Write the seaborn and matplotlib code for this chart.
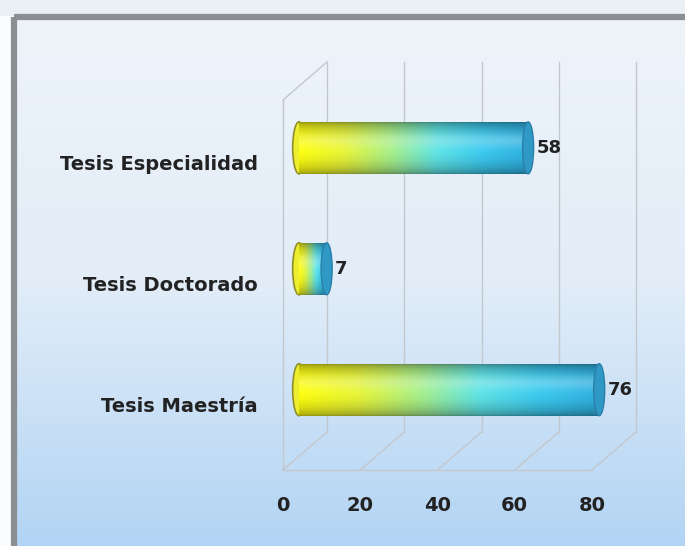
import numpy as np
import matplotlib
matplotlib.use('Agg')
import matplotlib.pyplot as plt
import seaborn as sns
from matplotlib.patches import Ellipse, Rectangle
from matplotlib.colors import LinearSegmentedColormap

categorias = ['Tesis Especialidad', 'Tesis Doctorado', 'Tesis Maestría']
valores = [58, 7, 76]
ticks_x = [0, 20, 40, 60, 80]

W, H = 685, 546
fig = plt.figure(figsize=(W / 100, H / 100), dpi=100)


def ejes(l, t, r, b):
    # ejes colocados en pixeles de la figura
    return fig.add_axes([l / W, 1 - b / H, (r - l) / W, (b - t) / H])


# fondo con degradado y marco gris (el marco sigue fuera de la imagen por la derecha)
fig.patch.set_facecolor('#fbfcfd')
fondo = ejes(0, 0, W, H)
fondo.set_xlim(0, W)
fondo.set_ylim(H, 0)
fondo.axis('off')
fondo.add_patch(Rectangle((0, 0), W, 16, fc='#e9eff5', ec='none'))
cmap_fondo = LinearSegmentedColormap.from_list('fondo', ['#eef4fa', '#e2edf8', '#b2d4f4'])
fondo.imshow(np.linspace(0, 1, 256)[:, None], cmap=cmap_fondo, extent=(15, W, H, 18), aspect='auto')
fondo.add_patch(Rectangle((14, 17), 700, 545, fill=False, ec='#8b8e92', lw=4.5, clip_on=False))
fondo.set_xlim(0, W)
fondo.set_ylim(H, 0)

# ejes frontales (suelo y etiquetas)
ax = ejes(283, 100, 592, 470)
ax.patch.set_alpha(0)
ax.set_xlim(0, 80)
y_suelo, y_techo = 2.54, -0.52
ax.set_ylim(y_suelo, y_techo)
for s in ax.spines.values():
    s.set_visible(False)

px_x = 309 / 80
px_y = 370 / (y_suelo - y_techo)
ddx = 44 / px_x
ddy = -38 / px_y
gris = '#c3c8cf'
for v in ticks_x:
    ax.plot([v + ddx] * 2, [y_suelo + ddy, y_techo + ddy], color=gris, lw=1, clip_on=False)
    ax.plot([v, v + ddx], [y_suelo, y_suelo + ddy], color=gris, lw=1, clip_on=False)
ax.plot([0, 0], [y_suelo, y_techo], color=gris, lw=1, clip_on=False)
ax.plot([0, ddx], [y_techo, y_techo + ddy], color=gris, lw=1, clip_on=False)
ax.plot([0, 80], [y_suelo, y_suelo], color=gris, lw=1, clip_on=False)

ax.set_yticks(range(len(categorias)))
ax.set_yticklabels(categorias, fontsize=14, fontweight='bold', color='#222222')
ax.set_xticks(ticks_x)
ax.set_xticklabels([str(t) for t in ticks_x], fontsize=14, fontweight='bold', color='#222222')
ax.tick_params(axis='y', length=0, pad=18)
ax.tick_params(axis='x', length=0, pad=19)

# ejes de las barras (a media profundidad)
axb = ejes(299, 85, 299 + 80 * 3.95, 455)
axb.patch.set_alpha(0)
sns.barplot(x=valores, y=categorias, orient='h', ax=axb, width=0.43, color='white')
axb.axis('off')

cmap_barra = LinearSegmentedColormap.from_list(
    'barra', ['#ffff10', '#e6f53a', '#a8f08a', '#5fe4e6', '#3ccaf0', '#2fb0e0'])
nx, ny = 256, 64
t = np.linspace(0, 1, ny)[:, None]
rgb = cmap_barra(np.linspace(0, 1, nx))[None, :, :3]
sombra = 0.6 + 0.4 * np.sin(np.pi * t) ** 0.6
brillo = 0.22 * np.exp(-((t - 0.35) / 0.14) ** 2)
img = rgb * sombra[..., None]
img = img + brillo[..., None] * (1 - img)
img = np.clip(img, 0, 1)

for p in axb.patches:
    x0, y0, w, h = p.get_x(), p.get_y(), p.get_width(), p.get_height()
    p.set_facecolor('none')
    p.set_edgecolor('none')
    axb.add_patch(Ellipse((x0, y0 + h / 2), 3.2, h, fc='#eeee30', ec='#8f8f2c', lw=1.2,
                          zorder=2, clip_on=False))
    axb.imshow(img, extent=(x0, x0 + w, y0 + h, y0), aspect='auto', zorder=3)
    axb.add_patch(Ellipse((x0 + w, y0 + h / 2), 2.8, h, fc='#2f98c4', ec='#2a7fa8', lw=1,
                          zorder=4, clip_on=False))

axb.bar_label(axb.containers[0], labels=[str(v) for v in valores], padding=6,
              fontsize=13, fontweight='bold', color='#222222')
axb.set_xlim(0, 80)
axb.set_ylim(y_suelo, y_techo)

fig.savefig('out.png', dpi=100)
